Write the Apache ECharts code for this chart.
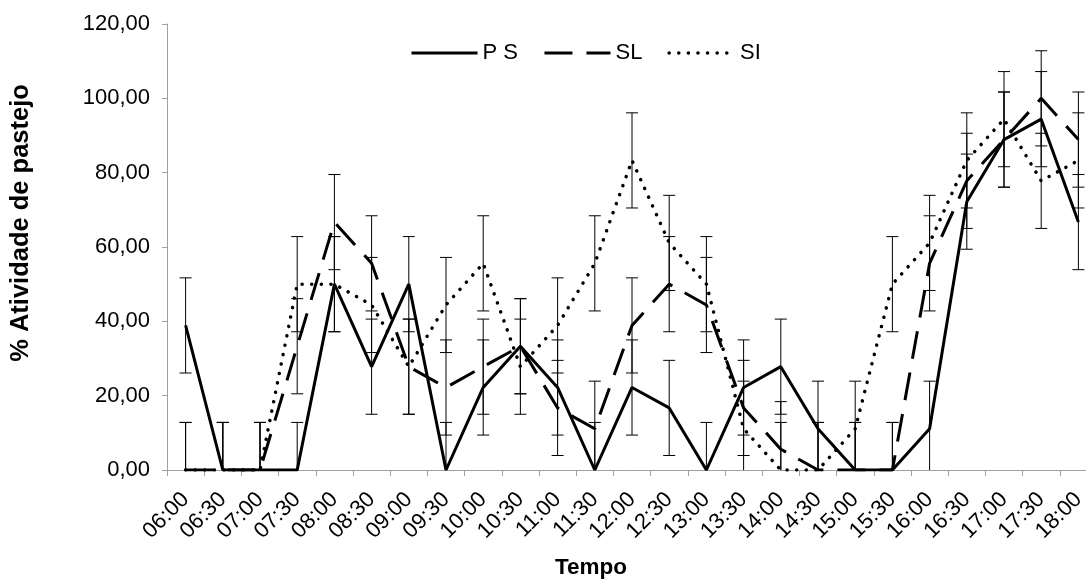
<!DOCTYPE html>
<html>
<head>
<meta charset="utf-8">
<script src="https://cdn.jsdelivr.net/npm/echarts@6/dist/echarts.min.js"></script>
<style>
html,body{margin:0;padding:0;background:#fff;}
#chart{width:1086px;height:579px;}
</style>
</head>
<body>
<div id="chart"></div>
<script>
var categories = ['06:00','06:30','07:00','07:30','08:00','08:30','09:00','09:30','10:00','10:30','11:00','11:30','12:00','12:30','13:00','13:30','14:00','14:30','15:00','15:30','16:00','16:30','17:00','17:30','18:00'];
var seriesNames = ['P S', 'SL', 'SI'];
var valuesPS = [38.9, 0, 0, 0, 50, 27.8, 50, 0, 22.2, 33.3, 22.2, 0, 22.2, 16.7, 0, 22.2, 27.8, 11.1, 0, 0, 11.1, 72.2, 88.9, 94.4, 66.7];
var valuesSL = [0, 0, 0, 33.3, 66.7, 55.6, 27.8, 22.2, 27.8, 33.3, 16.7, 11.1, 38.9, 50, 44.4, 16.7, 5.6, 0, 0, 0, 55.6, 77.8, 88.9, 100, 88.9];
var valuesSI = [0, 0, 0, 50, 50, 44.4, 27.8, 44.4, 55.6, 27.8, 38.9, 55.6, 83.3, 61.1, 50, 11.1, 0, 0, 11.1, 50, 61.1, 83.3, 94.4, 77.8, 83.3];
var errPS = [12.8, 12.8, 12.8, 12.8, 12.8, 12.8, 12.8, 12.8, 12.8, 12.8, 12.8, 12.8, 12.8, 12.8, 12.8, 12.8, 12.8, 12.8, 12.8, 12.8, 12.8, 12.8, 12.8, 12.8, 12.8];
var errSL = [12.8, 12.8, 12.8, 12.8, 12.8, 12.8, 12.8, 12.8, 12.8, 12.8, 12.8, 12.8, 12.8, 12.8, 12.8, 12.8, 12.8, 12.8, 12.8, 12.8, 12.8, 12.8, 12.8, 12.8, 12.8];
var errSI = [12.8, 12.8, 12.8, 12.8, 12.8, 12.8, 12.8, 12.8, 12.8, 12.8, 12.8, 12.8, 12.8, 12.8, 12.8, 12.8, 12.8, 12.8, 12.8, 12.8, 12.8, 12.8, 12.8, 12.8, 12.8];
var yTicks = {min: 0, max: 120, interval: 20};

var FONT = '"Liberation Sans", Arial, sans-serif';
var styleSL = [28, 14];
var styleSI = [0.1, 9.5];

function errData(vals, errs) {
  return vals.map(function (v, i) { return [i, v - errs[i], v + errs[i]]; });
}

function renderErr(params, api) {
  var i = api.value(0);
  var lo = api.value(1), hi = api.value(2);
  var loClipped = lo < yTicks.min;
  if (loClipped) lo = yTicks.min;
  var pHi = api.coord([i, hi]);
  var pLo = api.coord([i, lo]);
  var hw = 6;
  var st = {stroke: '#000', lineWidth: 1};
  var children = [
    {type: 'line', shape: {x1: pHi[0], y1: pHi[1], x2: pLo[0], y2: pLo[1]}, style: st},
    {type: 'line', shape: {x1: pHi[0] - hw, y1: pHi[1], x2: pHi[0] + hw, y2: pHi[1]}, style: st}
  ];
  if (!loClipped) {
    children.push({type: 'line', shape: {x1: pLo[0] - hw, y1: pLo[1], x2: pLo[0] + hw, y2: pLo[1]}, style: st});
  }
  return {type: 'group', children: children};
}

function lineSeries(name, data, lineStyle) {
  return {
    name: name, type: 'line', data: data, symbol: 'none', showSymbol: false,
    lineStyle: lineStyle, itemStyle: {color: '#000'}, z: 3, animation: false
  };
}
function errSeries(vals, errs) {
  return {
    type: 'custom', data: errData(vals, errs), renderItem: renderErr,
    encode: {x: 0, y: [1, 2]}, z: 2, animation: false, silent: true
  };
}

var chart = echarts.init(document.getElementById('chart'), null, {renderer: 'canvas'});
chart.setOption({
  animation: false,
  backgroundColor: '#fff',
  textStyle: {fontFamily: FONT},
  legend: {
    left: 405, top: 37,
    itemWidth: 66, itemHeight: 14, itemGap: 25,
    itemStyle: {opacity: 0},
    data: [
      {name: seriesNames[0], lineStyle: {type: 'solid', width: 3, color: '#000'}},
      {name: seriesNames[1], lineStyle: {type: styleSL, width: 3, color: '#000'}},
      {name: seriesNames[2], lineStyle: {type: styleSI, width: 3.5, color: '#000', cap: 'round'}}
    ],
    textStyle: {fontFamily: FONT, fontSize: 22, color: '#000'}
  },
  grid: {left: 167, right: -11, top: 24, bottom: 109, containLabel: false, outerBoundsMode: 'none'},
  xAxis: {
    type: 'category', data: categories, boundaryGap: true,
    name: 'Tempo', nameLocation: 'middle', nameGap: 86,
    nameTextStyle: {fontFamily: FONT, fontSize: 22.5, fontWeight: 'bold', color: '#000', padding: [0, 82, 0, 0]},
    axisLine: {lineStyle: {color: '#a0a0a0', width: 1}},
    axisTick: {show: true, length: 6, lineStyle: {color: '#a0a0a0'}},
    axisLabel: {rotate: 45, fontFamily: FONT, fontSize: 22, color: '#000', margin: 26, interval: 0},
    splitLine: {show: false}
  },
  yAxis: {
    type: 'value', min: yTicks.min, max: yTicks.max, interval: yTicks.interval,
    name: '% Atividade de pastejo', nameLocation: 'middle', nameGap: 133,
    nameTextStyle: {fontFamily: FONT, fontSize: 25.5, fontWeight: 'bold', color: '#000', padding: [0, 0, 0, 48]},
    axisLine: {show: true, lineStyle: {color: '#a0a0a0', width: 1}},
    axisTick: {show: true, length: 5, lineStyle: {color: '#a0a0a0'}},
    axisLabel: {fontFamily: FONT, fontSize: 22, color: '#000', margin: 17,
      formatter: function (v) { return v.toFixed(2).replace('.', ','); }},
    splitLine: {show: false}
  },
  series: [
    errSeries(valuesPS, errPS),
    errSeries(valuesSL, errSL),
    errSeries(valuesSI, errSI),
    lineSeries(seriesNames[0], valuesPS, {color: '#000', width: 3, type: 'solid'}),
    lineSeries(seriesNames[1], valuesSL, {color: '#000', width: 3, type: styleSL}),
    lineSeries(seriesNames[2], valuesSI, {color: '#000', width: 3.5, type: styleSI, cap: 'round'})
  ]
});
</script>
</body>
</html>
